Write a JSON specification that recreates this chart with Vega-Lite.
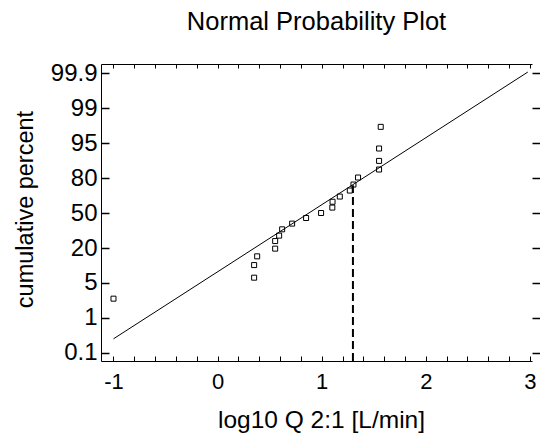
{
  "$schema": "https://vega.github.io/schema/vega-lite/v6.json",
  "autosize": "none",
  "width": 431,
  "height": 297,
  "padding": {"left": 101, "top": 64, "right": 8, "bottom": 73},
  "background": "white",
  "title": {"text": "Normal Probability Plot", "font": "Liberation Sans", "fontSize": 25.5, "fontWeight": "normal", "color": "black", "anchor": "middle", "baseline": "alphabetic", "offset": 6},
  "config": {
    "view": {"stroke": null},
    "axis": {"labelFont": "Liberation Sans", "titleFont": "Liberation Sans", "labelColor": "black", "titleColor": "black", "domainColor": "black", "tickColor": "black", "grid": false, "titleFontWeight": "normal"}
  },
  "datasets": {
    "pts": [
      {"x": -1.0, "y": 1.55},
      {"x": 0.351, "y": 2.151},
      {"x": 0.351, "y": 2.512},
      {"x": 0.38, "y": 2.762},
      {"x": 0.553, "y": 2.983},
      {"x": 0.553, "y": 3.2},
      {"x": 0.591, "y": 3.355},
      {"x": 0.62, "y": 3.536},
      {"x": 0.716, "y": 3.699},
      {"x": 0.85, "y": 3.86},
      {"x": 0.994, "y": 4.003},
      {"x": 1.102, "y": 4.158},
      {"x": 1.104, "y": 4.325},
      {"x": 1.174, "y": 4.474},
      {"x": 1.27, "y": 4.646},
      {"x": 1.305, "y": 4.818},
      {"x": 1.349, "y": 5.019},
      {"x": 1.551, "y": 5.248},
      {"x": 1.551, "y": 5.495},
      {"x": 1.551, "y": 5.85},
      {"x": 1.567, "y": 6.47}
    ],
    "fit": [
      {"x": -1.0, "y": 0.4},
      {"x": 2.98, "y": 8.04}
    ],
    "ref": [
      {"x": 1.3, "y": -0.235, "y2": 4.8}
    ]
  },
  "layer": [
    {
      "data": {"name": "pts"},
      "mark": {"type": "point", "shape": "square", "filled": false, "size": 25, "strokeWidth": 1, "color": "black", "opacity": 1},
      "encoding": {
        "x": {"field": "x", "type": "quantitative",
          "scale": {"domain": [-1.12, 3.02], "nice": false, "zero": false},
          "axis": {"orient": "bottom", "title": "log10 Q 2:1 [L/min]", "titleFontSize": 24.5,
            "values": [-1, -0.8, -0.6, -0.4, -0.2, 0, 0.2, 0.4, 0.6, 0.8, 1, 1.2, 1.4, 1.6, 1.8, 2, 2.2, 2.4, 2.6, 2.8, 3],
            "labelExpr": "abs(datum.value - round(datum.value)) < 0.001 ? '' + round(datum.value) : ''",
            "labelFontSize": 22, "labelPadding": 15, "labelBaseline": "top", "labelFlush": false, "labelOverlap": false,
            "tickSize": -5, "tickWidth": 1, "domainWidth": 1,
            "titleX": 220, "titleY": 66, "titleBaseline": "alphabetic", "titleAnchor": "middle"}},
        "y": {"field": "y", "type": "quantitative",
          "scale": {"domain": [-0.235, 8.27], "nice": false, "zero": false},
          "axis": {"orient": "left", "title": "cumulative percent", "titleFontSize": 23.5,
            "values": [0, 1, 2, 3, 4, 5, 6, 7, 8],
            "labelExpr": "['0.1','1','5','20','50','80','95','99','99.9'][round(datum.value)]",
            "labelFontSize": 24, "labelPadding": 12, "labelFlush": false, "labelOverlap": false,
            "tickSize": -8, "tickWidth": 1.5, "domainWidth": 1,
            "titleAngle": -90, "titleX": -69, "titleY": 145, "titleBaseline": "alphabetic", "titleAnchor": "middle", "titleAlign": "center"}}
      }
    },
    {
      "data": {"name": "fit"},
      "mark": {"type": "line", "color": "black", "strokeWidth": 1},
      "encoding": {
        "x": {"field": "x", "type": "quantitative",
          "axis": {"orient": "top", "title": null, "labels": false, "domain": true, "domainWidth": 1,
            "values": [-1, -0.8, -0.6, -0.4, -0.2, 0, 0.2, 0.4, 0.6, 0.8, 1, 1.2, 1.4, 1.6, 1.8, 2, 2.2, 2.4, 2.6, 2.8, 3],
            "tickSize": -4, "tickWidth": 1}},
        "y": {"field": "y", "type": "quantitative",
          "axis": {"orient": "right", "title": null, "labels": false, "domain": false,
            "values": [0, 1, 2, 3, 4, 5, 6, 7, 8],
            "tickSize": 8, "tickWidth": 1.5}}
      }
    },
    {
      "data": {"name": "ref"},
      "mark": {"type": "rule", "color": "black", "strokeWidth": 2, "strokeDash": [8, 4]},
      "encoding": {
        "x": {"field": "x", "type": "quantitative", "axis": null},
        "y": {"field": "y", "type": "quantitative", "axis": null},
        "y2": {"field": "y2"}
      }
    }
  ],
  "resolve": {"axis": {"x": "independent", "y": "independent"}}
}
